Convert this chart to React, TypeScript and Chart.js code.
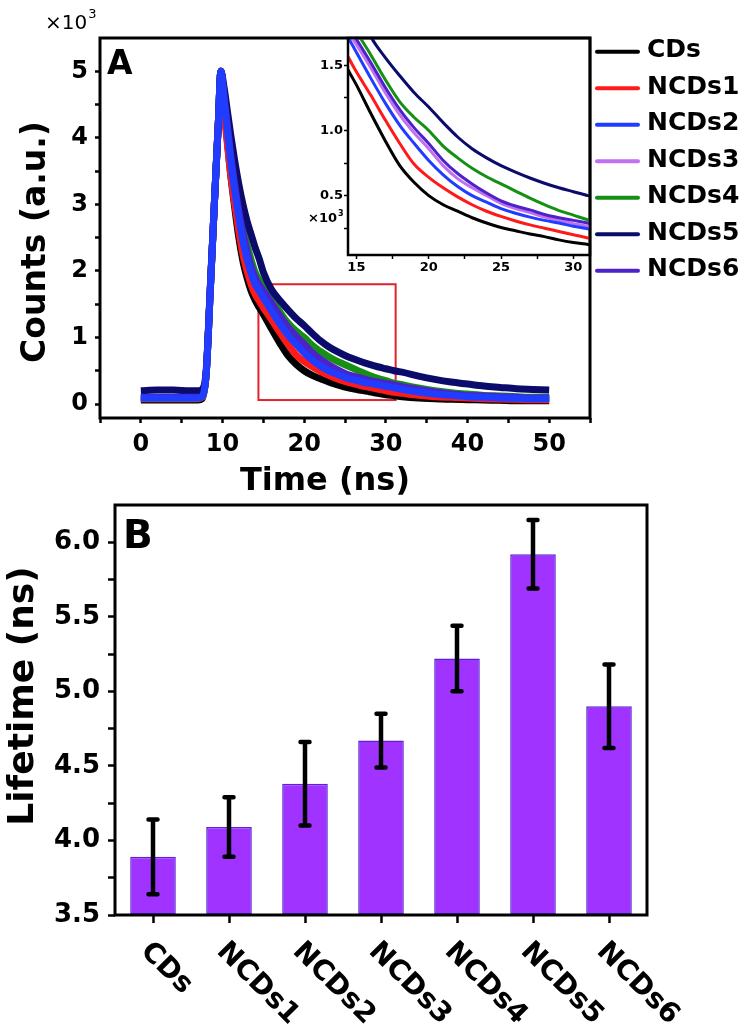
import React, { useEffect, useRef } from 'react';
import { Chart, registerables } from 'chart.js';

Chart.register(...registerables);

const FAMILY = 'DejaVu Sans';

// ---------------- Panel A : decay curves ----------------
const timeNs = [0, 2, 4, 6, 7, 7.5, 8, 8.5, 9, 9.5, 9.8, 10.2, 10.6, 11, 11.5, 12, 12.5, 13, 13.5, 14, 14.5, 15, 16, 17, 18, 19, 20, 21, 22, 23, 24, 25, 26, 27, 28, 29, 30, 31, 32, 34, 36, 38, 40, 42, 44, 46, 48, 50];

const countsCDs = [0.06, 0.06, 0.06, 0.06, 0.06, 0.08, 0.45, 1.7, 3.0, 4.25, 5.0, 4.45, 3.95, 3.45, 2.95, 2.5, 2.15, 1.9, 1.7, 1.56, 1.45, 1.35, 1.13, 0.92, 0.73, 0.6, 0.5, 0.43, 0.38, 0.33, 0.29, 0.255, 0.23, 0.205, 0.185, 0.16, 0.14, 0.125, 0.11, 0.09, 0.08, 0.07, 0.065, 0.06, 0.055, 0.05, 0.05, 0.05];
const countsNCDs1 = [0.08, 0.08, 0.08, 0.08, 0.08, 0.1, 0.45, 1.7, 3.0, 4.25, 5.0, 4.4, 3.9, 3.45, 3.0, 2.6, 2.25, 2.0, 1.8, 1.65, 1.55, 1.45, 1.27, 1.08, 0.9, 0.74, 0.64, 0.56, 0.49, 0.43, 0.38, 0.34, 0.305, 0.275, 0.25, 0.225, 0.2, 0.175, 0.16, 0.13, 0.11, 0.1, 0.09, 0.08, 0.075, 0.07, 0.065, 0.065];
const countsNCDs2 = [0.09, 0.09, 0.09, 0.09, 0.09, 0.11, 0.45, 1.7, 3.0, 4.25, 5.0, 4.55, 4.1, 3.65, 3.2, 2.8, 2.45, 2.18, 1.97, 1.8, 1.7, 1.6, 1.4, 1.21, 1.04, 0.9, 0.77, 0.66, 0.57, 0.5, 0.45, 0.4, 0.365, 0.335, 0.31, 0.29, 0.265, 0.245, 0.22, 0.18, 0.15, 0.13, 0.11, 0.1, 0.09, 0.085, 0.08, 0.08];
const countsNCDs3 = [0.09, 0.09, 0.09, 0.09, 0.09, 0.11, 0.45, 1.7, 3.0, 4.25, 5.0, 4.6, 4.15, 3.7, 3.25, 2.85, 2.52, 2.25, 2.02, 1.85, 1.75, 1.66, 1.48, 1.29, 1.12, 0.98, 0.86, 0.73, 0.63, 0.56, 0.5, 0.44, 0.4, 0.37, 0.335, 0.31, 0.285, 0.265, 0.24, 0.2, 0.17, 0.14, 0.12, 0.11, 0.1, 0.09, 0.085, 0.08];
const countsNCDs4 = [0.09, 0.09, 0.09, 0.09, 0.09, 0.11, 0.45, 1.7, 3.0, 4.25, 5.0, 4.65, 4.25, 3.85, 3.4, 3.0, 2.68, 2.4, 2.17, 1.98, 1.86, 1.76, 1.58, 1.39, 1.22, 1.1, 1.0, 0.88, 0.79, 0.71, 0.645, 0.59, 0.535, 0.48, 0.43, 0.385, 0.35, 0.315, 0.29, 0.24, 0.2, 0.17, 0.15, 0.13, 0.12, 0.11, 0.1, 0.1];
const countsNCDs5 = [0.2, 0.21, 0.21, 0.2, 0.2, 0.22, 0.5, 1.75, 3.0, 4.25, 5.0, 4.75, 4.4, 4.05, 3.65, 3.3, 3.0, 2.75, 2.55, 2.35, 2.18, 1.98, 1.72, 1.56, 1.42, 1.29, 1.18, 1.06, 0.95, 0.86, 0.79, 0.73, 0.68, 0.635, 0.595, 0.56, 0.53, 0.5, 0.48, 0.42, 0.37, 0.33, 0.3, 0.27, 0.25, 0.23, 0.22, 0.21];
const countsNCDs6 = [0.1, 0.1, 0.1, 0.1, 0.1, 0.12, 0.45, 1.7, 3.0, 4.25, 5.0, 4.62, 4.18, 3.75, 3.3, 2.9, 2.57, 2.3, 2.07, 1.9, 1.79, 1.7, 1.52, 1.33, 1.16, 1.02, 0.9, 0.77, 0.67, 0.59, 0.52, 0.46, 0.42, 0.39, 0.355, 0.33, 0.31, 0.29, 0.26, 0.22, 0.18, 0.15, 0.13, 0.12, 0.11, 0.1, 0.09, 0.09];

const seriesNames = ['CDs', 'NCDs1', 'NCDs2', 'NCDs3', 'NCDs4', 'NCDs5', 'NCDs6'];
const seriesCounts = [countsCDs, countsNCDs1, countsNCDs2, countsNCDs3, countsNCDs4, countsNCDs5, countsNCDs6];
const seriesColors = ['#000000', '#ff1a1a', '#1f3cff', '#c070f0', '#159015', '#0b0b6b', '#4d22c8'];
const seriesDrawOrder = [6, 5, 0, 4, 3, 2, 1];

const mainXTicks = [-5, 0, 5, 10, 15, 20, 25, 30, 35, 40, 45, 50, 55];
const mainYTicks = [0, 0.5, 1, 1.5, 2, 2.5, 3, 3.5, 4, 4.5, 5];
const mainXTitle = 'Time (ns)';
const mainYTitle = 'Counts (a.u.)';

const insetXTicks = [15, 17.5, 20, 22.5, 25, 27.5, 30];
const insetYTicks = [0.25, 0.5, 0.75, 1, 1.25, 1.5];

const zoomBoxTime = [14.4, 31.2];
const zoomBoxCounts = [0.06, 1.8];

// ---------------- Panel B : lifetimes ----------------
const lifetimeLabels = ['CDs', 'NCDs1', 'NCDs2', 'NCDs3', 'NCDs4', 'NCDs5', 'NCDs6'];
const lifetimes = [3.89, 4.09, 4.38, 4.67, 5.22, 5.92, 4.9];
const lifetimeErrors = [0.25, 0.2, 0.28, 0.18, 0.22, 0.23, 0.28];
const lifetimeYTicks = [3.5, 3.75, 4, 4.25, 4.5, 4.75, 5, 5.25, 5.5, 5.75, 6];
const lifetimeTitle = 'Lifetime (ns)';

const font = (size: number, bold = true) => `${bold ? 'bold ' : ''}${size}px "${FAMILY}"`;

function fixedTicks(values: number[]) {
  return (scale: any) => {
    scale.ticks = values.map((v) => ({ value: v }));
  };
}
function fixedSize(prop: 'width' | 'height', size: number) {
  return (scale: any) => {
    scale[prop] = size;
    scale.paddingLeft = 0;
    scale.paddingRight = 0;
    scale.paddingTop = 0;
    scale.paddingBottom = 0;
  };
}
const tickGrid = (len: number, width: number) => ({
  display: true,
  drawOnChartArea: false,
  drawTicks: true,
  tickLength: len,
  tickWidth: width,
  tickColor: '#000',
});

function lineDatasets(width: number, clip: boolean) {
  return seriesNames.map((name, i) => ({
    label: name,
    data: timeNs.map((t, k) => ({ x: t, y: seriesCounts[i][k] })),
    borderColor: seriesColors[i],
    backgroundColor: seriesColors[i],
    borderWidth: width,
    pointRadius: 0,
    fill: false,
    cubicInterpolationMode: 'monotone' as const,
    order: seriesDrawOrder[i],
    ...(clip ? { clip: 0 } : {}),
  }));
}

const mainDecor = {
  id: 'mainDecor',
  beforeDatasetsDraw(chart: any) {
    const { ctx, scales } = chart;
    const x0 = scales.x.getPixelForValue(zoomBoxTime[0]);
    const x1 = scales.x.getPixelForValue(zoomBoxTime[1]);
    const y0 = scales.y.getPixelForValue(zoomBoxCounts[0]);
    const y1 = scales.y.getPixelForValue(zoomBoxCounts[1]);
    ctx.save();
    ctx.strokeStyle = '#e2232e';
    ctx.lineWidth = 2;
    ctx.strokeRect(x0, y1, x1 - x0, y0 - y1);
    ctx.restore();
  },
  afterDraw(chart: any) {
    const { ctx, chartArea: a } = chart;
    ctx.save();
    ctx.strokeStyle = '#000';
    ctx.lineWidth = 3;
    ctx.strokeRect(a.left, a.top, a.right - a.left, a.bottom - a.top);
    ctx.fillStyle = '#000';
    ctx.textAlign = 'left';
    ctx.textBaseline = 'alphabetic';
    ctx.font = font(33);
    ctx.fillText('A', a.left + 7, a.top + 36);
    ctx.font = font(20, false);
    ctx.fillText('×10', a.left - 55, a.top - 9);
    const w = ctx.measureText('×10').width;
    ctx.font = font(13, false);
    ctx.fillText('3', a.left - 55 + w + 1, a.top - 20);
    ctx.font = font(32);
    ctx.textAlign = 'center';
    ctx.fillText(mainXTitle, a.left + 225, a.bottom + 72);
    ctx.save();
    ctx.translate(36, (a.top + a.bottom) / 2 + 14);
    ctx.rotate(-Math.PI / 2);
    ctx.textBaseline = 'middle';
    ctx.font = font(33);
    ctx.fillText(mainYTitle, 0, 0);
    ctx.restore();
    // legend
    ctx.lineCap = 'round';
    ctx.lineWidth = 4;
    ctx.textAlign = 'left';
    ctx.textBaseline = 'middle';
    ctx.font = font(25);
    seriesNames.forEach((name, i) => {
      const y = a.top + 13.7 + i * 36.5;
      ctx.strokeStyle = seriesColors[i];
      ctx.beginPath();
      ctx.moveTo(a.right + 7, y);
      ctx.lineTo(a.right + 48, y);
      ctx.stroke();
      ctx.fillStyle = '#000';
      ctx.fillText(name, a.right + 57, y - 1);
    });
    ctx.restore();
  },
};

const insetDecor = {
  id: 'insetDecor',
  afterDraw(chart: any) {
    const { ctx, chartArea: a } = chart;
    ctx.save();
    ctx.strokeStyle = '#000';
    ctx.lineWidth = 2.5;
    ctx.strokeRect(a.left, a.top, a.right - a.left, a.bottom - a.top);
    ctx.fillStyle = '#000';
    ctx.textAlign = 'left';
    ctx.textBaseline = 'alphabetic';
    ctx.font = font(13);
    ctx.fillText('×10', a.left - 40, a.top + 184);
    const w = ctx.measureText('×10').width;
    ctx.font = font(8);
    ctx.fillText('3', a.left - 40 + w + 1, a.top + 178);
    ctx.restore();
  },
};

const barDecor = {
  id: 'barDecor',
  afterDatasetsDraw(chart: any) {
    const { ctx, scales } = chart;
    ctx.save();
    ctx.strokeStyle = '#000';
    ctx.lineWidth = 4.5;
    lifetimes.forEach((v, i) => {
      const x = scales.x.getPixelForValue(i);
      const yt = scales.y.getPixelForValue(v + lifetimeErrors[i]);
      const yb = scales.y.getPixelForValue(v - lifetimeErrors[i]);
      ctx.lineCap = 'butt';
      ctx.beginPath();
      ctx.moveTo(x, yt);
      ctx.lineTo(x, yb);
      ctx.stroke();
      ctx.lineCap = 'round';
      ctx.beginPath();
      ctx.moveTo(x - 4.5, yt);
      ctx.lineTo(x + 4.5, yt);
      ctx.moveTo(x - 4.5, yb);
      ctx.lineTo(x + 4.5, yb);
      ctx.stroke();
    });
    ctx.restore();
  },
  afterDraw(chart: any) {
    const { ctx, chartArea: a, scales } = chart;
    ctx.save();
    ctx.strokeStyle = '#000';
    ctx.lineWidth = 3;
    ctx.strokeRect(a.left, a.top, a.right - a.left, a.bottom - a.top);
    ctx.fillStyle = '#000';
    ctx.textAlign = 'left';
    ctx.textBaseline = 'alphabetic';
    ctx.font = font(39);
    ctx.fillText('B', a.left + 8, a.top + 43);
    ctx.font = font(28);
    ctx.textBaseline = 'middle';
    lifetimeLabels.forEach((lab, i) => {
      const x = scales.x.getPixelForValue(i);
      ctx.save();
      ctx.translate(x - 8, a.bottom + 32);
      ctx.rotate(Math.PI / 4);
      ctx.fillText(lab, 0, 0);
      ctx.restore();
    });
    ctx.save();
    ctx.translate(24, (a.top + a.bottom) / 2 - 14);
    ctx.rotate(-Math.PI / 2);
    ctx.textAlign = 'center';
    ctx.font = font(36);
    ctx.fillText(lifetimeTitle, 0, 0);
    ctx.restore();
    ctx.restore();
  },
};

const commonPlugins = {
  legend: { display: false },
  title: { display: false },
  tooltip: { enabled: false },
};

export default function App() {
  const mainRef = useRef<HTMLCanvasElement>(null);
  const insetRef = useRef<HTMLCanvasElement>(null);
  const barRef = useRef<HTMLCanvasElement>(null);

  useEffect(() => {
    const charts: Chart[] = [];

    charts.push(
      new Chart(mainRef.current as HTMLCanvasElement, {
        type: 'line',
        data: { datasets: lineDatasets(7, false) as any },
        options: {
          responsive: false,
          animation: false,
          events: [],
          layout: { padding: { left: 0, top: 38, right: 155, bottom: 0 } },
          plugins: commonPlugins as any,
          scales: {
            x: {
              type: 'linear',
              min: -5,
              max: 55,
              afterBuildTicks: fixedTicks(mainXTicks),
              afterFit: fixedSize('height', 80),
              grid: tickGrid(5, 2.5) as any,
              border: { display: false },
              ticks: {
                autoSkip: false,
                maxRotation: 0,
                minRotation: 0,
                padding: 7,
                color: '#000',
                font: { family: FAMILY, weight: 'bold', size: 24 },
                callback: (v: any) => (Number(v) % 10 === 0 ? String(v) : ''),
              },
            },
            y: {
              type: 'linear',
              min: -0.21,
              max: 5.5,
              afterBuildTicks: fixedTicks(mainYTicks),
              afterFit: fixedSize('width', 100),
              grid: tickGrid(5, 2.5) as any,
              border: { display: false },
              ticks: {
                autoSkip: false,
                padding: 7,
                color: '#000',
                font: { family: FAMILY, weight: 'bold', size: 24 },
                callback: (v: any) => (Number.isInteger(Number(v)) ? String(v) : ''),
              },
            },
          },
        },
        plugins: [mainDecor],
      })
    );

    charts.push(
      new Chart(insetRef.current as HTMLCanvasElement, {
        type: 'line',
        data: { datasets: lineDatasets(3, true) as any },
        options: {
          responsive: false,
          animation: false,
          events: [],
          layout: { padding: { left: 0, top: 18, right: 10, bottom: 0 } },
          plugins: commonPlugins as any,
          scales: {
            x: {
              type: 'linear',
              min: 14.42,
              max: 31.15,
              afterBuildTicks: fixedTicks(insetXTicks),
              afterFit: fixedSize('height', 30),
              grid: tickGrid(4, 1.5) as any,
              border: { display: false },
              ticks: {
                autoSkip: false,
                maxRotation: 0,
                minRotation: 0,
                padding: 1,
                color: '#000',
                font: { family: FAMILY, weight: 'bold', size: 13 },
                callback: (v: any) => (Number(v) % 5 === 0 ? String(v) : ''),
              },
            },
            y: {
              type: 'linear',
              min: 0.044,
              max: 1.71,
              afterBuildTicks: fixedTicks(insetYTicks),
              afterFit: fixedSize('width', 48),
              grid: tickGrid(4, 1.5) as any,
              border: { display: false },
              ticks: {
                autoSkip: false,
                padding: 1,
                color: '#000',
                font: { family: FAMILY, weight: 'bold', size: 13 },
                callback: (v: any) => {
                  const d = Number(v) * 2;
                  return Math.abs(d - Math.round(d)) < 1e-9 ? Number(v).toFixed(1) : '';
                },
              },
            },
          },
        },
        plugins: [insetDecor],
      })
    );

    charts.push(
      new Chart(barRef.current as HTMLCanvasElement, {
        type: 'bar',
        data: {
          labels: lifetimeLabels,
          datasets: [
            {
              label: 'Lifetime',
              data: lifetimes,
              backgroundColor: '#a033ff',
              borderColor: '#5a22d8',
              borderWidth: 1.5,
              borderSkipped: false,
              barPercentage: 0.6,
              categoryPercentage: 1,
              base: lifetimeYTicks[0],
            } as any,
          ],
        },
        options: {
          responsive: false,
          animation: false,
          events: [],
          layout: { padding: { left: 0, top: 7, right: 98, bottom: 0 } },
          plugins: commonPlugins as any,
          scales: {
            x: {
              type: 'category',
              offset: true,
              afterFit: fixedSize('height', 119),
              grid: { ...tickGrid(8, 2.5), offset: false } as any,
              border: { display: false },
              ticks: {
                autoSkip: false,
                maxRotation: 0,
                minRotation: 0,
                color: '#000',
                font: { family: FAMILY, weight: 'bold', size: 26 },
                callback: () => '',
              },
            },
            y: {
              type: 'linear',
              min: 3.5,
              max: 6.25,
              afterBuildTicks: fixedTicks(lifetimeYTicks),
              afterFit: fixedSize('width', 115),
              grid: tickGrid(7, 2.5) as any,
              border: { display: false },
              ticks: {
                autoSkip: false,
                padding: 8,
                color: '#000',
                font: { family: FAMILY, weight: 'bold', size: 26 },
                callback: (v: any) => {
                  const d = Number(v) * 2;
                  return Math.abs(d - Math.round(d)) < 1e-9 ? Number(v).toFixed(1) : '';
                },
              },
            },
          },
        },
        plugins: [barDecor],
      })
    );

    return () => charts.forEach((c) => c.destroy());
  }, []);

  return (
    <div style={{ position: 'absolute', left: 0, top: 0, width: 745, height: 1034, background: '#ffffff' }}>
      <canvas ref={mainRef} width={745} height={498} style={{ position: 'absolute', left: 0, top: 0 }} />
      <canvas ref={insetRef} width={300} height={265} style={{ position: 'absolute', left: 300, top: 20 }} />
      <canvas ref={barRef} width={745} height={536} style={{ position: 'absolute', left: 0, top: 498 }} />
    </div>
  );
}
